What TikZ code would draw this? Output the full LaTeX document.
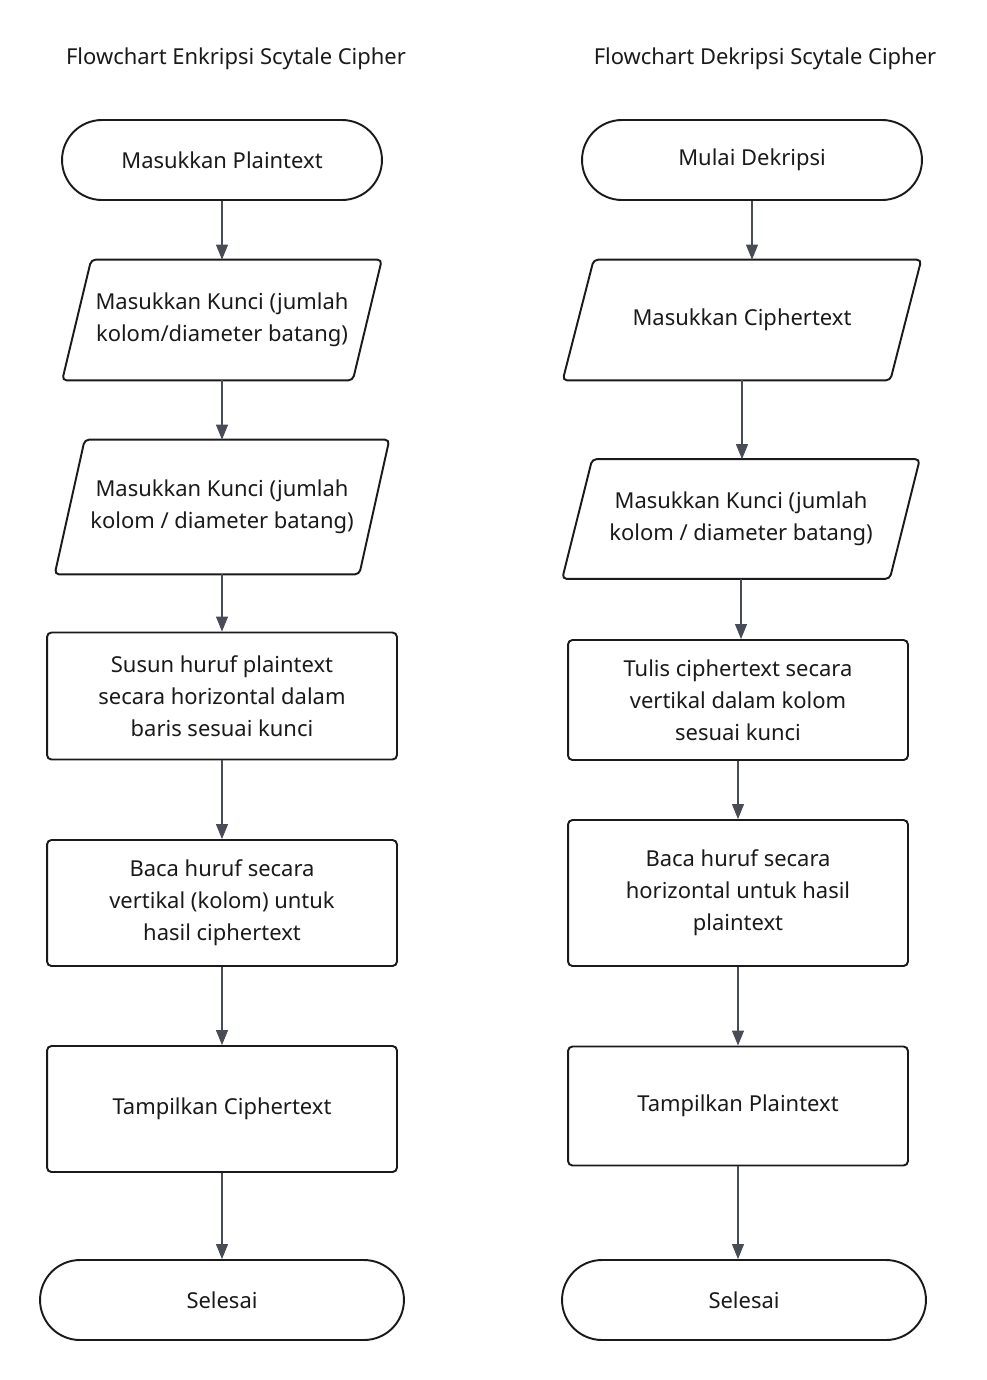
\documentclass[tikz,border=0pt]{standalone}
\usepackage{fontspec}
\setmainfont{Noto Sans}
\usepackage{tikz}
\usetikzlibrary{arrows.meta}
\definecolor{inkline}{HTML}{1A1A1A}
\definecolor{arrowgray}{HTML}{474C55}
\tikzstyle{label}=[font=\fontsize{12.5}{18.2}\selectfont, text=inkline, align=center, inner sep=0pt]
\tikzstyle{terminal}=[label, draw=inkline, line width=1.1pt, rounded corners=0.8cm, minimum height=1.6cm]
\tikzstyle{process}=[label, draw=inkline, line width=1.1pt, rounded corners=2.5pt, minimum width=7cm]
\tikzstyle{inout}=[label, minimum height=2.4cm]
\tikzstyle{slanted}=[draw=inkline, line width=1.1pt, rounded corners=2.5pt]
\tikzstyle{edge}=[draw=arrowgray, line width=0.6pt, -{Triangle[width=0.24cm,length=0.3cm]}]

\begin{document}
\begin{tikzpicture}[x=0.02cm, y=-0.02cm]

    \useasboundingbox (0,0) rectangle (987,1380);

    % titles
    \node[label] (tl) at (236,59) {Flowchart Enkripsi Scytale Cipher};
    \node[label] (tr) at (765,59) {Flowchart Dekripsi Scytale Cipher};

    % enkripsi
    \node[terminal, minimum width=6.4cm] (e1) at (222,160) {Masukkan Plaintext};
    \node[inout, minimum width=5.8cm] (e2) at (222,320) {Masukkan Kunci (jumlah\\kolom/diameter batang)};
    \node[inout, minimum width=6.08cm, minimum height=2.68cm] (e3) at (222,507) {Masukkan Kunci (jumlah\\kolom / diameter batang)};
    \node[process, minimum height=2.54cm] (e4) at (222,696) {Susun huruf plaintext\\secara horizontal dalam\\baris sesuai kunci};
    \node[process, minimum height=2.52cm] (e5) at (222,903) {Baca huruf secara\\vertikal (kolom) untuk\\hasil ciphertext};
    \node[process, minimum height=2.52cm] (e6) at (222,1109) {Tampilkan Ciphertext};
    \node[terminal, minimum width=7.28cm] (e7) at (222,1300) {Selesai};

    % dekripsi
    \node[terminal, minimum width=6.8cm] (d1) at (752,160) {Mulai Dekripsi};
    \node[inout, minimum width=6.54cm] (d2) at (742,320) {Masukkan Ciphertext};
    \node[inout, minimum width=6.54cm, minimum height=2.38cm] (d3) at (741,519) {Masukkan Kunci (jumlah\\kolom / diameter batang)};
    \node[process, minimum width=6.8cm, minimum height=2.4cm] (d4) at (738,700) {Tulis ciphertext secara\\vertikal dalam kolom\\sesuai kunci};
    \node[process, minimum width=6.8cm, minimum height=2.92cm] (d5) at (738,893) {Baca huruf secara\\horizontal untuk hasil\\plaintext};
    \node[process, minimum width=6.8cm, minimum height=2.38cm] (d6) at (738,1106) {Tampilkan Plaintext};
    \node[terminal, minimum width=7.28cm] (d7) at (744,1300) {Selesai};

    % input/output outlines
    \foreach \name/\slant in {e2/0.29cm, e3/0.3cm, d2/0.31cm, d3/0.3cm}
        \path[slanted] ([xshift=\slant]\name.north west) -- ([xshift=\slant]\name.north east)
            -- ([xshift=-\slant]\name.south east) -- ([xshift=-\slant]\name.south west) -- cycle;

    \foreach \source/ \dest in {e1/e2, e2/e3, e3/e4, e4/e5, e5/e6, e6/e7, d1/d2, d2/d3, d3/d4, d4/d5, d5/d6, d6/d7}
        \path[edge] (\source.south) -- (\source.south |- \dest.north);

\end{tikzpicture}
\end{document}
